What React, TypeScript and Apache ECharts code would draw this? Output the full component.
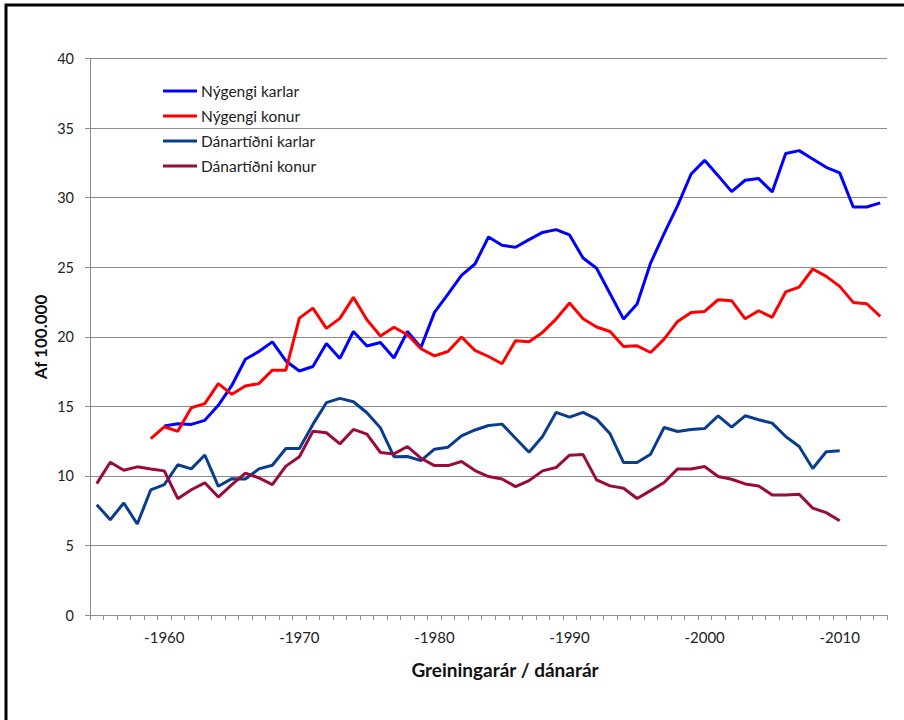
import React, { useEffect, useRef } from "react";
import * as echarts from "echarts";

const years = [
  "1955", "1956", "1957", "1958", "1959", "1960", "1961", "1962", "1963", "1964",
  "1965", "1966", "1967", "1968", "1969", "1970", "1971", "1972", "1973", "1974",
  "1975", "1976", "1977", "1978", "1979", "1980", "1981", "1982", "1983", "1984",
  "1985", "1986", "1987", "1988", "1989", "1990", "1991", "1992", "1993", "1994",
  "1995", "1996", "1997", "1998", "1999", "2000", "2001", "2002", "2003", "2004",
  "2005", "2006", "2007", "2008", "2009", "2010", "2011", "2012", "2013",
];

const yTicks = [0, 5, 10, 15, 20, 25, 30, 35, 40];

const nygengiKarlar = [
  null, null, null, null, null, 13.58, 13.75, 13.7, 13.99, 15.07,
  16.5, 18.38, 18.94, 19.63, 18.26, 17.54, 17.86, 19.52, 18.44, 20.38,
  19.34, 19.59, 18.47, 20.38, 19.23, 21.75, 23.07, 24.41, 25.23, 27.17,
  26.57, 26.43, 26.98, 27.5, 27.7, 27.32, 25.66, 24.92, 23.09, 21.27,
  22.35, 25.3, 27.41, 29.42, 31.7, 32.68, 31.58, 30.43, 31.25, 31.37,
  30.41, 33.17, 33.38, 32.78, 32.18, 31.78, 29.33, 29.33, 29.62,
];

const nygengiKonur = [
  null, null, null, null, 12.67, 13.53, 13.2, 14.9, 15.19, 16.63,
  15.86, 16.46, 16.63, 17.6, 17.6, 21.34, 22.06, 20.6, 21.32, 22.83,
  21.22, 20.05, 20.68, 20.14, 19.14, 18.63, 18.94, 19.98, 19.02, 18.58,
  18.06, 19.71, 19.64, 20.31, 21.27, 22.42, 21.29, 20.7, 20.38, 19.3,
  19.35, 18.87, 19.83, 21.1, 21.75, 21.82, 22.66, 22.59, 21.29, 21.87,
  21.39, 23.22, 23.57, 24.87, 24.34, 23.62, 22.47, 22.37, 21.46,
];

const danartidniKarlar = [
  7.93, 6.85, 8.05, 6.54, 9.0, 9.37, 10.8, 10.5, 11.5, 9.25,
  9.8, 9.78, 10.5, 10.76, 11.97, 11.97, 13.7, 15.26, 15.57, 15.33,
  14.54, 13.45, 11.38, 11.39, 11.1, 11.92, 12.06, 12.88, 13.3, 13.62,
  13.72, 12.71, 11.7, 12.83, 14.56, 14.22, 14.56, 14.08, 13.02, 10.96,
  10.96, 11.56, 13.48, 13.19, 13.33, 13.4, 14.32, 13.5, 14.32, 14.03,
  13.79, 12.83, 12.11, 10.53, 11.73, 11.8, null, null, null,
];

const danartidniKonur = [
  9.44, 10.98, 10.4, 10.65, 10.5, 10.36, 8.36, 9.0, 9.5, 8.48,
  9.37, 10.2, 9.85, 9.37, 10.7, 11.37, 13.2, 13.1, 12.3, 13.34,
  13.0, 11.68, 11.58, 12.11, 11.27, 10.74, 10.74, 11.03, 10.38, 9.95,
  9.78, 9.23, 9.66, 10.36, 10.6, 11.49, 11.53, 9.71, 9.28, 9.11,
  8.37, 8.94, 9.52, 10.5, 10.5, 10.67, 9.95, 9.76, 9.42, 9.28,
  8.63, 8.63, 8.68, 7.68, 7.36, 6.78, null, null, null,
];

const seriesNames = ["Nýgengi karlar", "Nýgengi konur", "Dánartíðni karlar", "Dánartíðni konur"];
const seriesColors = ["#0000ff", "#ff0000", "#0b3d8f", "#990a3d"];
const seriesData = [nygengiKarlar, nygengiKonur, danartidniKarlar, danartidniKonur];

const FONT = "Lato, 'Open Sans', sans-serif";

export default function App() {
  const ref = useRef<HTMLDivElement>(null);

  useEffect(() => {
    if (!ref.current) return;
    const chart = echarts.init(ref.current, null, { renderer: "svg" });
    chart.setOption({
      animation: false,
      backgroundColor: "#ffffff",
      textStyle: { fontFamily: FONT },
      grid: { left: 90, right: 17, top: 58.5, bottom: 105, containLabel: false },
      legend: {
        orient: "vertical",
        left: 163,
        top: 83,
        padding: 0,
        itemWidth: 34,
        itemHeight: 3,
        itemGap: 9,
        icon: "rect",
        data: seriesNames,
        textStyle: { fontFamily: FONT, fontSize: 15.5, color: "#222", padding: [0, 0, 0, -1] },
      },
      xAxis: {
        type: "category",
        data: years,
        boundaryGap: true,
        axisLine: { lineStyle: { color: "#8c8c8c", width: 1 } },
        axisTick: { show: true, interval: 0, length: 5, lineStyle: { color: "#8c8c8c" } },
        axisLabel: {
          interval: (idx: number, val: string) => Number(val) % 10 === 0,
          formatter: (val: string) => "-" + val,
          fontFamily: FONT,
          fontSize: 15,
          color: "#222",
          margin: 14,
        },
        splitLine: { show: false },
      },
      yAxis: {
        type: "value",
        min: yTicks[0],
        max: yTicks[yTicks.length - 1],
        interval: 5,
        axisLine: { show: true, lineStyle: { color: "#8c8c8c", width: 1 } },
        axisTick: { show: true, length: 5, lineStyle: { color: "#8c8c8c" } },
        axisLabel: { fontFamily: FONT, fontSize: 14.5, color: "#222", margin: 16 },
        splitLine: { show: true, lineStyle: { color: "#8c8c8c", width: 1 } },
      },
      series: seriesNames.map((name, i) => ({
        name,
        type: "line",
        data: seriesData[i],
        symbol: "none",
        smooth: false,
        connectNulls: false,
        lineStyle: { color: seriesColors[i], width: 3 },
        itemStyle: { color: seriesColors[i] },
      })),
      graphic: [
        {
          type: "rect",
          shape: { x: 6, y: 5, width: 2000, height: 2000 },
          style: { fill: "none", stroke: "#000", lineWidth: 3 },
          silent: true,
        },
        {
          type: "text",
          x: 40,
          y: 337,
          rotation: Math.PI / 2,
          style: {
            text: "Af 100.000",
            fontFamily: FONT,
            fontWeight: "bold",
            fontSize: 17,
            fill: "#111",
            align: "center",
            verticalAlign: "middle",
          },
        },
        {
          type: "text",
          x: 505,
          y: 669,
          style: {
            text: "Greiningarár / dánarár",
            fontFamily: FONT,
            fontWeight: "bold",
            fontSize: 19,
            fill: "#111",
            align: "center",
            verticalAlign: "middle",
          },
        },
      ],
    });
    return () => chart.dispose();
  }, []);

  return (
    <div
      ref={ref}
      style={{ position: "absolute", left: 0, top: 0, width: 904, height: 720 }}
    />
  );
}
